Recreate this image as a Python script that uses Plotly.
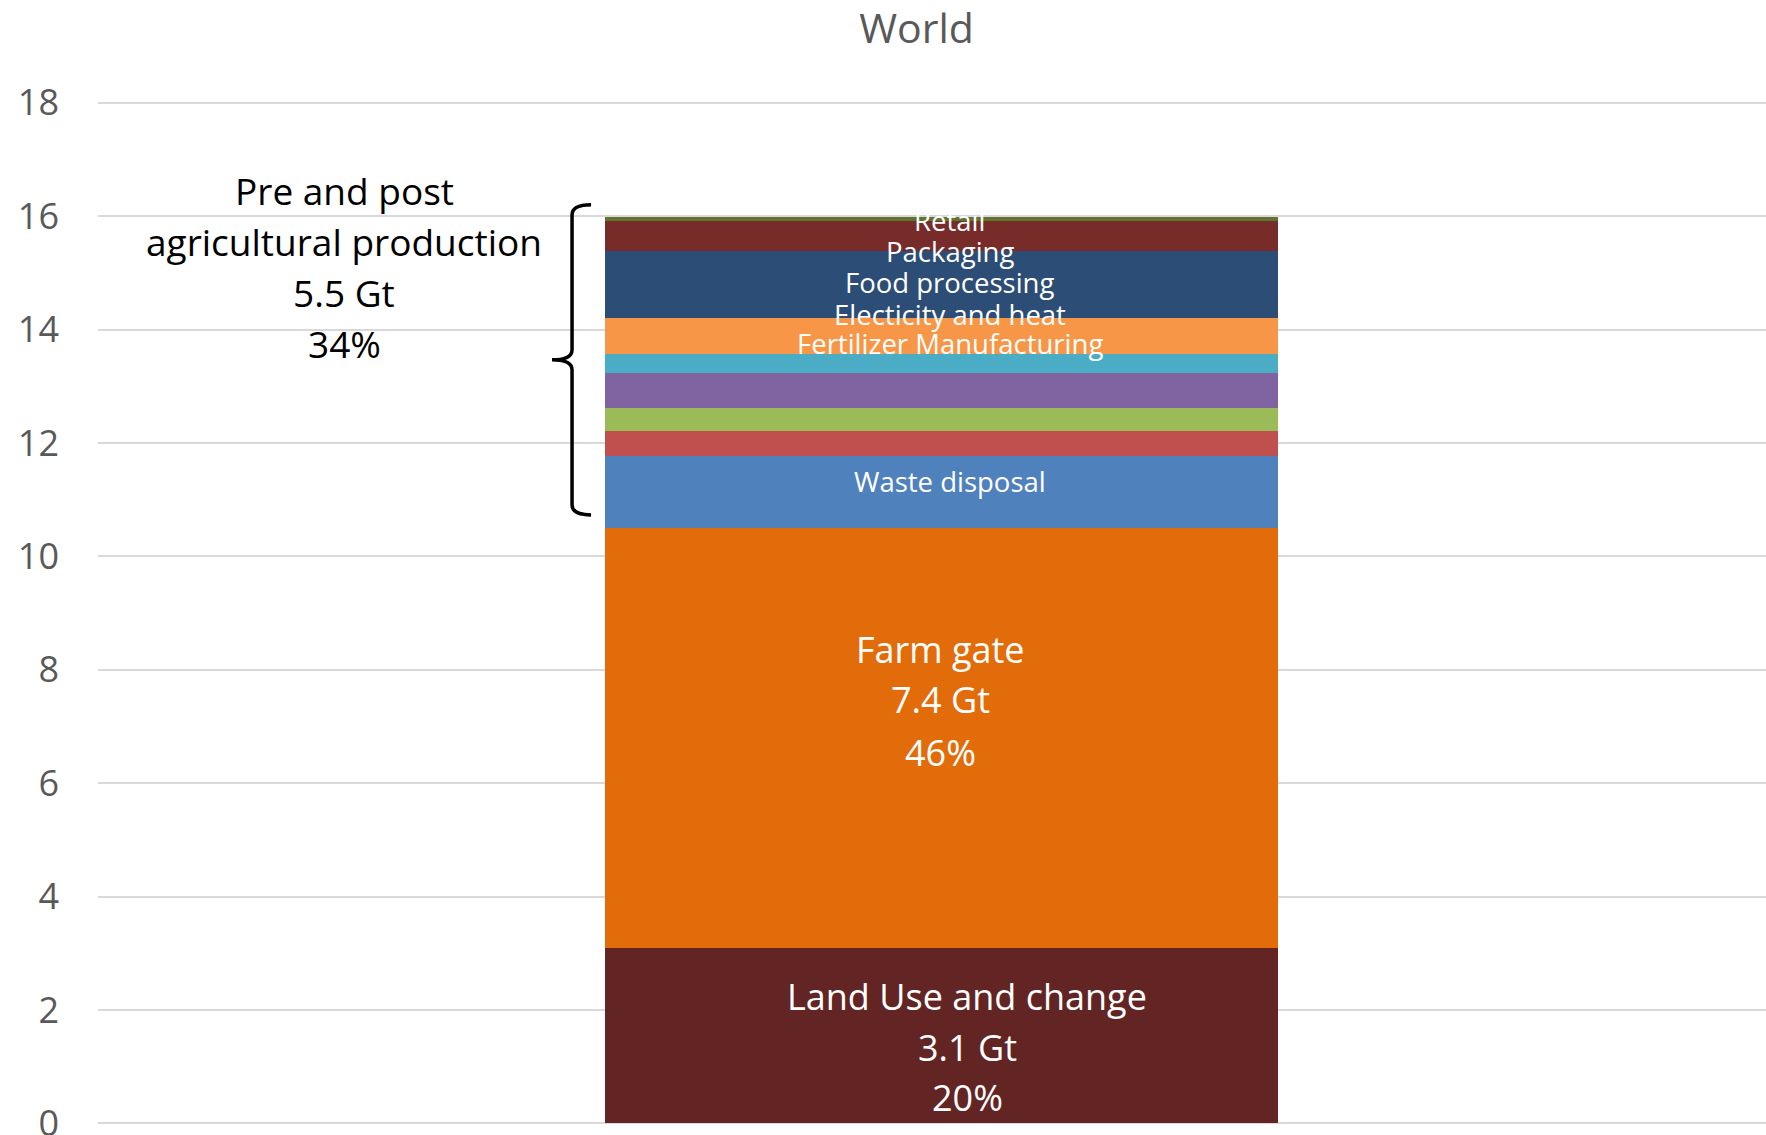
import plotly.graph_objects as go

# Global food-system emissions, Gt CO2eq, stacked bottom to top
category = ["World"]
segment_names = [
    "Land Use and change",
    "Farm gate",
    "Waste disposal",
    "Household consumption",
    "On-farm energy",
    "Pesticides manufacturing",
    "Fertilizer Manufacturing",
    "Electicity and heat",
    "Food processing",
    "Packaging",
    "Retail",
]
segment_values = [3.1, 7.4, 1.27, 0.44, 0.41, 0.62, 0.32, 0.65, 1.18, 0.53, 0.07]
segment_colors = [
    "#632523", "#E36C0A", "#4F81BD", "#C0504D", "#9BBB59", "#8064A2",
    "#4BACC6", "#F79646", "#2C4D75", "#772C2A", "#5F7530",
]

# Text blocks
land_label = ["Land Use and change", "3.1 Gt", "20%"]
farm_label = ["Farm gate", "7.4 Gt", "46%"]
prepost_label = ["Pre and post", "agricultural production", "5.5 Gt", "34%"]
small_labels = ["Transport", "Retail", "Packaging", "Food processing",
                "Electicity and heat", "Fertilizer Manufacturing", "Waste disposal"]

y_ticks = list(range(0, 19, 2))

FONT = "Open Sans"

fig = go.Figure()
for name, val, col in zip(segment_names, segment_values, segment_colors):
    fig.add_trace(go.Bar(
        x=category, y=[val], name=name, marker=dict(color=col, line=dict(width=0)),
        width=0.4035,
    ))

annotations = []

def add_lines(lines, x, ys, size, color):
    for txt, yy in zip(lines, ys):
        annotations.append(dict(
            text=txt, x=x, y=yy, xref="paper", yref="y", showarrow=False,
            xanchor="center", yanchor="middle",
            font=dict(family=FONT, size=size, color=color),
        ))

add_lines(land_label, 0.521, [2.245, 1.336, 0.453], 36, "white")
add_lines(farm_label, 0.505, [8.36, 7.48, 6.54], 36, "white")
add_lines(prepost_label, 0.1475, [16.46, 15.56, 14.65, 13.75], 37, "black")
add_lines(small_labels, 0.5105, [18.09, 15.92, 15.37, 14.83, 14.26, 13.75, 11.32], 27.5, "white")

# Curly brace spanning the pre- and post-production segments
base = sum(segment_values[:2])
total = sum(segment_values)
yb, yt = base + 0.23, total + 0.21
ym = (yb + yt) / 2
xr, xv, xm = 0.2956, 0.2842, 0.2722
r = 0.18
brace = (f"M {xr},{yt} Q {xv},{yt} {xv},{yt - r} L {xv},{ym + r} "
         f"Q {xv},{ym} {xm},{ym} Q {xv},{ym} {xv},{ym - r} "
         f"L {xv},{yb + r} Q {xv},{yb} {xr},{yb}")

# Pad the value axis slightly so the grid lines at 0 and 18 are both drawn
pad = 0.03
fig.update_layout(
    template="none",
    width=1766, height=1135,
    barmode="stack",
    showlegend=False,
    paper_bgcolor="white", plot_bgcolor="white",
    margin=dict(l=98, r=0, t=101, b=10, autoexpand=False),
    title=dict(text="World", x=0.519, xanchor="center", y=0.975, yanchor="middle",
               font=dict(family=FONT, size=41, color="#595959")),
    xaxis=dict(type="category", range=[-0.5057, 0.4943], showticklabels=False,
               showgrid=False, zeroline=False, showline=False, ticks=""),
    yaxis=dict(range=[-pad, 18 + pad], tickvals=y_ticks, showgrid=True, gridcolor="#D9D9D9",
               gridwidth=1.5, zeroline=True, zerolinecolor="#D9D9D9", zerolinewidth=1.5,
               showline=False, ticks="", ticklabelstandoff=38, automargin=False,
               ticklabeloverflow="allow",
               tickfont=dict(family=FONT, size=36, color="#595959")),
    annotations=annotations,
    shapes=[dict(type="path", path=brace, xref="paper", yref="y",
                 line=dict(color="black", width=3.5), layer="above")],
)

fig.write_html("out.html")
